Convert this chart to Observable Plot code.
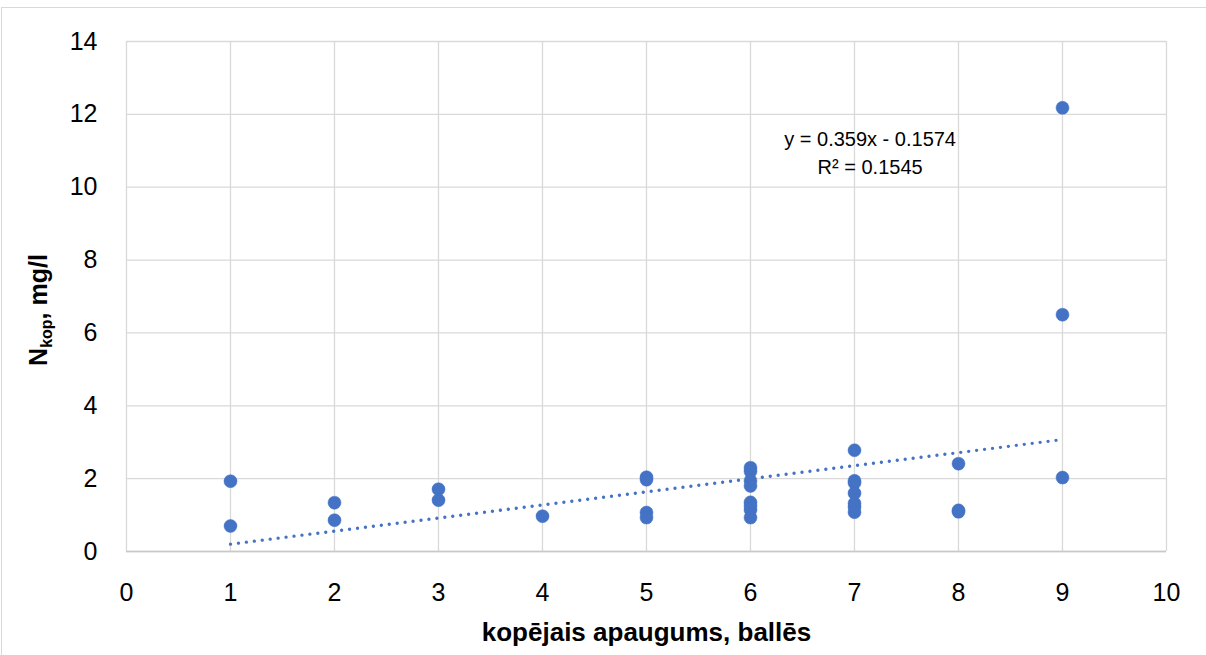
<!DOCTYPE html>
<html>
<head>
<meta charset="utf-8">
<script src="https://cdn.jsdelivr.net/npm/d3@7"></script>
<script src="https://cdn.jsdelivr.net/npm/@observablehq/plot@0.6"></script>
<style>
  html, body { margin: 0; padding: 0; background: #fff; }
  #wrap { position: relative; width: 1206px; height: 655px; overflow: hidden; }
  #border { position: absolute; left: 1px; top: 7px; width: 1300px; height: 700px;
            border-left: 1.5px solid #d9d9d9; border-top: 1.5px solid #d9d9d9; }
  #chart { position: absolute; left: 0; top: 0; }
</style>
</head>
<body>
<div id="wrap"><div id="border"></div><div id="chart"></div></div>
<script>
// Data
const xValues = [1, 1, 2, 2, 3, 3, 4, 5, 5, 5, 5, 6, 6, 6, 6, 6, 6, 6, 6, 7, 7, 7, 7, 7, 7, 7, 8, 8, 8, 9, 9, 9];
const yValues = [1.93, 0.70, 1.34, 0.86, 1.71, 1.41, 0.97, 2.04, 1.97, 1.07, 0.93, 2.30, 2.20, 1.94, 1.80, 1.35, 1.25, 1.14, 0.93, 2.78, 1.94, 1.88, 1.60, 1.32, 1.22, 1.08, 2.41, 1.13, 1.09, 12.18, 6.50, 2.03];
const xTicks = [0, 1, 2, 3, 4, 5, 6, 7, 8, 9, 10];
const yTicks = [0, 2, 4, 6, 8, 10, 12, 14];
const trendSlope = 0.359;
const trendIntercept = -0.1574;
const rSquared = 0.1545;
const trendRange = [1, 9];
const xLabel = "kopējais apaugums, ballēs";
const yLabelMain = "N";
const yLabelSub = "kop";
const yLabelRest = ", mg/l";
const equationLines = ["y = 0.359x - 0.1574", "R² = 0.1545"];

const blue = "#4472C4";
const font = "'Liberation Sans', Arial, sans-serif";

const points = xValues.map((x, i) => ({x, y: yValues[i]}));
const trend = trendRange.map(x => ({x, y: trendSlope * x + trendIntercept}));

const chart = Plot.plot({
  width: 1206,
  height: 655,
  marginLeft: 126,
  marginRight: 40,
  marginTop: 41,
  marginBottom: 104,
  style: {fontFamily: font, color: "#000", background: "transparent"},
  x: {domain: [0, 10]},
  y: {domain: [0, 14]},
  marks: [
    Plot.gridX(xTicks, {stroke: "#d9d9d9", strokeOpacity: 1, strokeWidth: 1.3}),
    Plot.gridY(yTicks, {stroke: "#d9d9d9", strokeOpacity: 1, strokeWidth: 1.3}),
    Plot.ruleY([0], {stroke: "#c8c8c8", strokeWidth: 1.5}),
    Plot.axisX(xTicks, {tickSize: 0, tickPadding: 32, fontSize: 25, label: null, fill: "#000"}),
    Plot.axisY(yTicks, {tickSize: 0, tickPadding: 29, fontSize: 25, label: null, fill: "#000"}),
    Plot.line(trend, {x: "x", y: "y", stroke: blue, strokeWidth: 3.4, strokeDasharray: "0 8", strokeLinecap: "round"}),
    Plot.dot(points, {x: "x", y: "y", r: 6.5, fill: blue, stroke: blue, strokeWidth: 0.5}),
    Plot.text([equationLines.join("\n")], {x: 7.15, y: 10.98, fontSize: 20, lineHeight: 1.4, fill: "#000", textAnchor: "middle"}),
    Plot.text([xLabel], {frameAnchor: "bottom", lineAnchor: "bottom", dy: 89, fontSize: 26, fontWeight: "bold", fill: "#000"})
  ]
});

document.getElementById("chart").appendChild(chart);

// Y axis label with subscript
const yCenter = 310;
const lbl = d3.select(chart).append("text")
  .attr("transform", `translate(47,${yCenter}) rotate(-90)`)
  .attr("text-anchor", "middle")
  .attr("font-family", font)
  .attr("font-weight", "bold")
  .attr("font-size", 25)
  .attr("fill", "#000");
lbl.append("tspan").text(yLabelMain);
lbl.append("tspan").attr("font-size", 16).attr("dy", 5).text(yLabelSub);
lbl.append("tspan").attr("dy", -5).text(yLabelRest);
</script>
</body>
</html>
